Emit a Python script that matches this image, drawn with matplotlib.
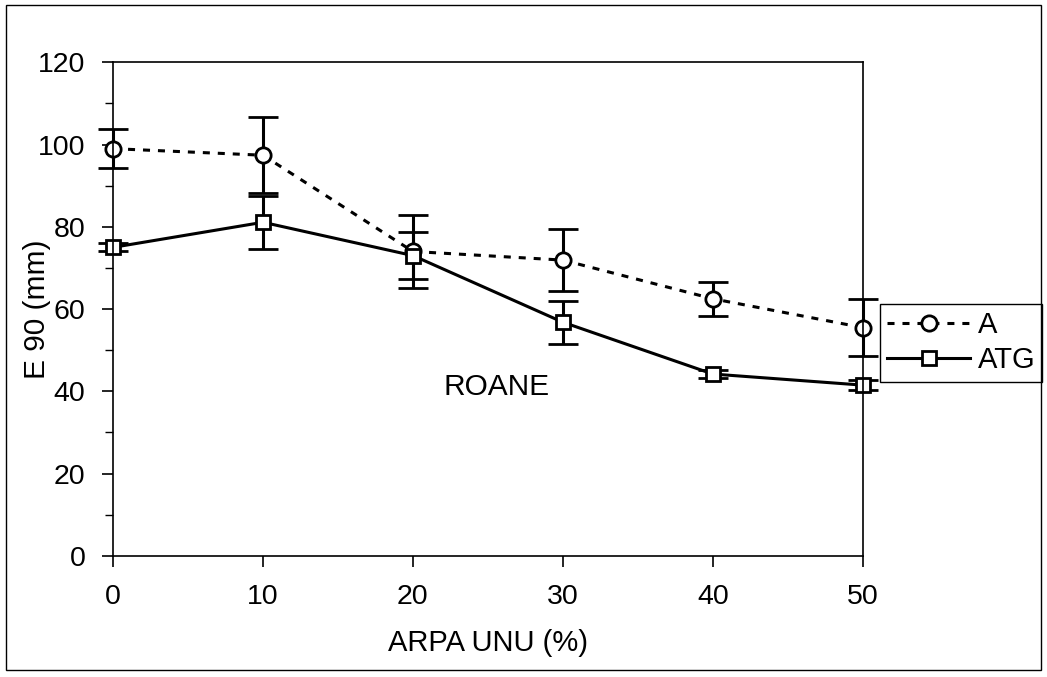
import matplotlib
matplotlib.use("Agg")
from matplotlib import pyplot as plt
from matplotlib.patches import Rectangle
from matplotlib.ticker import MultipleLocator

plt.rcParams["font.family"] = ["Liberation Sans", "DejaVu Sans"]

# data
arpa = [0, 10, 20, 30, 40, 50]
a_mean = [99.0, 97.4, 74.0, 71.9, 62.5, 55.5]
a_err = [4.8, 9.2, 8.9, 7.6, 4.1, 6.9]
atg_mean = [75.0, 81.1, 73.0, 56.8, 44.2, 41.5]
atg_err = [1.0, 6.5, 5.7, 5.2, 1.0, 1.3]

fig = plt.figure(figsize=(10.47, 6.77), dpi=100)
ax = fig.add_axes([0.108, 0.179, 0.716, 0.729])

fig.patches.append(Rectangle((0.006, 0.01), 0.988, 0.982, transform=fig.transFigure,
                             fill=False, edgecolor="black", linewidth=1.0))

style = dict(color="black", lw=2.2, mfc="white", mec="black", mew=2,
             ecolor="black", elinewidth=2.2, capsize=11, capthick=2.2)
l1 = ax.errorbar(arpa, a_mean, yerr=a_err, ls=(0, (2.3, 2.6)), marker="o", ms=11,
                 label="A", **style)
l2 = ax.errorbar(arpa, atg_mean, yerr=atg_err, ls="-", marker="s", ms=10,
                 label="ATG", **style)
for cont in (l1, l2):
    for art in cont.get_children():
        art.set_clip_on(False)

ax.set_xlim(0, 50)
ax.set_ylim(0, 120)
ax.xaxis.set_major_locator(MultipleLocator(10))
ax.yaxis.set_major_locator(MultipleLocator(20))
ax.yaxis.set_minor_locator(MultipleLocator(10))
ax.tick_params(axis="both", which="major", direction="out", length=8, width=1.2,
               labelsize=20.5, pad=12)
ax.tick_params(axis="y", which="minor", direction="out", length=6, width=1.0)
for s in ax.spines.values():
    s.set_linewidth(1.2)

ax.set_xlabel("ARPA UNU (%)", fontsize=21, labelpad=14)
ax.set_ylabel("E 90 (mm)", fontsize=21.5, va="center")
ax.yaxis.set_label_coords(-0.102, 0.5)
ax.text(25.6, 41, "ROANE", fontsize=21.5, ha="center", va="center")

ax.legend(handles=[l1[0], l2[0]], labels=["A", "ATG"], loc="center left",
          bbox_to_anchor=(1.0227, 0.432), fontsize=21, frameon=True, fancybox=False,
          edgecolor="black", framealpha=1, borderpad=0.25, handlelength=2.85,
          handletextpad=0.25, labelspacing=0.25, borderaxespad=0)

fig.savefig("out.png", dpi=100)
